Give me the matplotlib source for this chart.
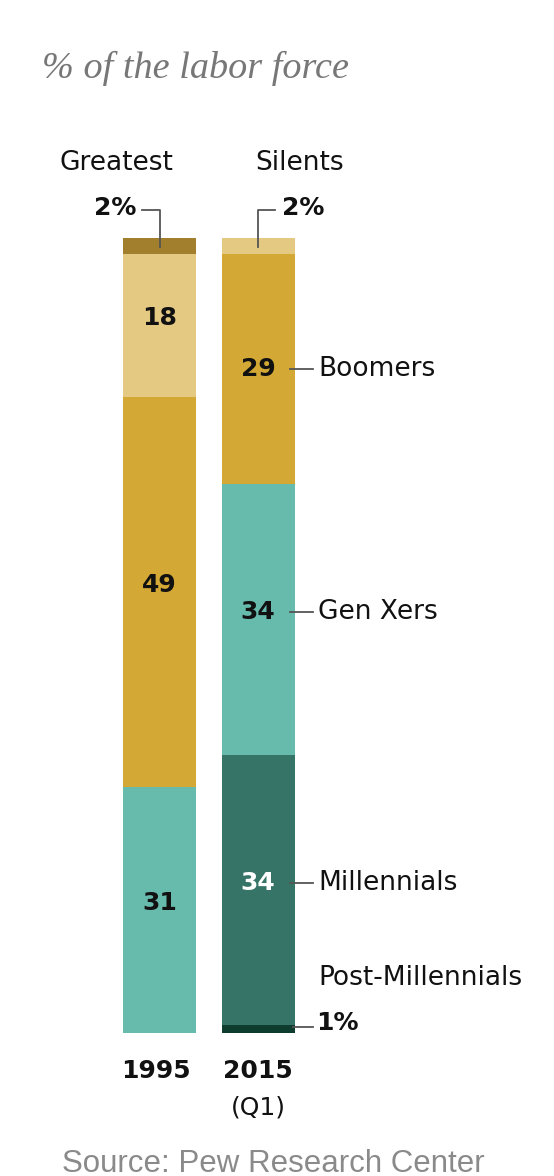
import numpy as np
import matplotlib
import matplotlib.pyplot as plt
matplotlib.use('Agg')

# Anteile der Generationen am Arbeitsmarkt (%)
years = ['1995', '2015']
generations = ['Greatest', 'Silents', 'Boomers', 'Gen Xers', 'Millennials', 'Post-Millennials']
share_1995 = [2, 18, 49, 31, 0, 0]
share_2015 = [0, 2, 29, 34, 34, 1]
colors = ['#a27f2d', '#e4c983', '#d3a834', '#67bbad', '#367467', '#0e3d2f']

W, H = 554, 1176
sans = ['Liberation Sans Narrow', 'DejaVu Sans']

fig = plt.figure(figsize=(W / 100, H / 100), dpi=100)

# Achse: oben bei y=238 px, unten bei y=1033 px
ax = fig.add_axes([0, (H - 1033) / H, 1, (1033 - 238) / H])
ax.set_xlim(-159.5 / 98.5, (W - 159.5) / 98.5)
ax.set_ylim(100, 0)
ax.axis('off')

width = 73 / 98.5
values = np.array([share_1995, share_2015])
bottom = np.zeros(2)
for i, gen in enumerate(generations):
    ax.bar([0, 1], values[:, i], width, bottom=bottom, color=colors[i], align='center')
    bottom += values[:, i]

def px(x, y):
    return x / W, 1 - y / H

# Zahlen in den Balken
for b, row in enumerate(values):
    cum = np.cumsum(row) - row
    for i, v in enumerate(row):
        if v >= 10:
            c = 'white' if generations[i] == 'Millennials' else '#111111'
            off = 0 if (b == 1 and i == 2) else -0.9
            ax.text(b, cum[i] + v / 2 + off, str(v), ha='center', va='center',
                    fontsize=18, fontweight='bold', color=c, family=sans)

# Beschriftungen rechts vom 2015-Balken
cum15 = np.cumsum(share_2015) - np.array(share_2015)
line_c = '#555555'
x0 = (290 - 159.5) / 98.5
x1 = (313 - 159.5) / 98.5
for i in [2, 3, 4]:
    off = 0 if i == 2 else -0.9
    y = cum15[i] + share_2015[i] / 2 + off
    ax.plot([x0, x1], [y, y], color=line_c, lw=1.3)
    ax.text((318 - 159.5) / 98.5, y, generations[i], ha='left', va='center',
            fontsize=19, color='#111111', family=sans)

# Post-Millennials
y = cum15[5] + 0.3
ax.plot([(293 - 159.5) / 98.5, x1], [y, y], color=line_c, lw=1.3, clip_on=False)
ax.text((316 - 159.5) / 98.5, y - 0.6, '1%', ha='left', va='center',
        fontsize=18, fontweight='bold', color='#111111', family=sans)
fig.text(*px(318, 978), 'Post-Millennials', ha='left', va='center',
         fontsize=19, color='#111111', family=sans)

# Greatest / Silents oben
yl = (210 - 238) / 7.95
ax.plot([(142 - 159.5) / 98.5, 0, 0], [yl, yl, 1.1], color=line_c, lw=1.3, clip_on=False)
ax.plot([1, 1, (275 - 159.5) / 98.5], [1.1, yl, yl], color=line_c, lw=1.3, clip_on=False)
fig.text(*px(136, 208), '2%', ha='right', va='center', fontsize=18,
         fontweight='bold', color='#111111', family=sans)
fig.text(*px(282, 208), '2%', ha='left', va='center', fontsize=18,
         fontweight='bold', color='#111111', family=sans)
fig.text(*px(116, 163), 'Greatest', ha='center', va='center', fontsize=19,
         color='#111111', family=sans)
fig.text(*px(300, 163), 'Silents', ha='center', va='center', fontsize=19,
         color='#111111', family=sans)

# Jahre
fig.text(*px(156, 1071), '1995', ha='center', va='center', fontsize=18,
         fontweight='bold', color='#111111', family=sans)
fig.text(*px(258, 1071), '2015', ha='center', va='center', fontsize=18,
         fontweight='bold', color='#111111', family=sans)
fig.text(*px(258, 1108), '(Q1)', ha='center', va='center', fontsize=18,
         color='#111111', family=sans)

# Untertitel und Quelle
fig.text(*px(42, 68), '% of the labor force', ha='left', va='center', fontsize=27.5,
         style='italic', color='#777777', family=['Liberation Serif', 'DejaVu Serif'])
fig.text(*px(62, 1164), 'Source: Pew Research Center', ha='left', va='center',
         fontsize=22.5, color='#8a8a8a', family=['Liberation Sans', 'DejaVu Sans'])

fig.savefig('out.png', dpi=100)
